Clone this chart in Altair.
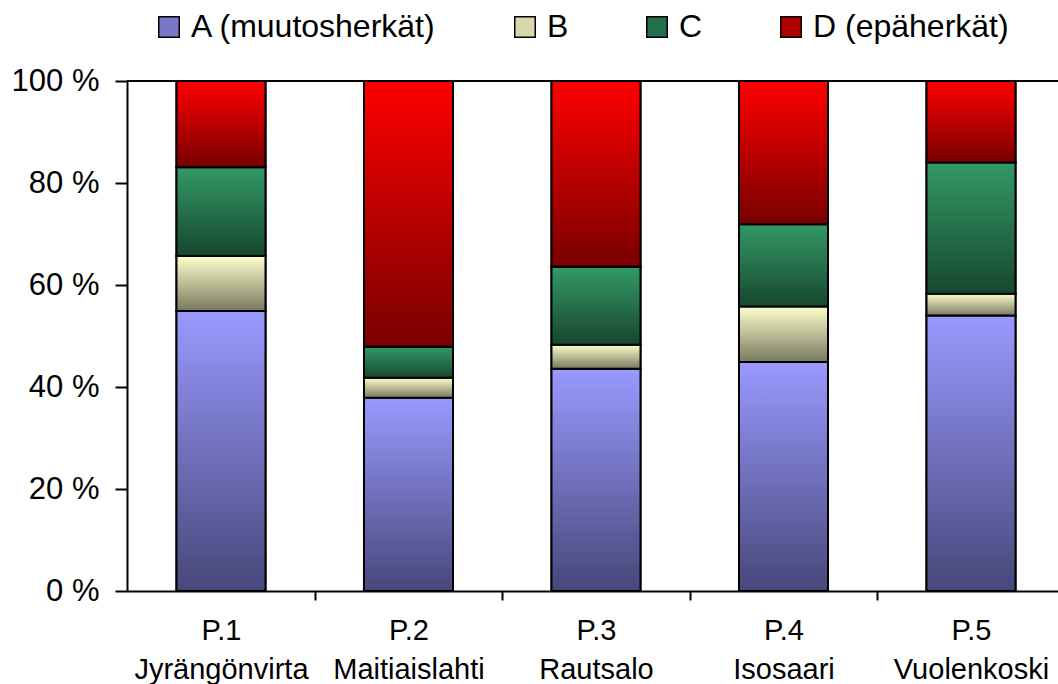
import altair as alt
import pandas as pd

# Sites (two-line category labels)
site_codes = ["P.1", "P.2", "P.3", "P.4", "P.5"]
site_names = ["Jyrängönvirta", "Maitiaislahti", "Rautsalo", "Isosaari", "Vuolenkoski"]

# Sensitivity classes, bottom to top
classes = ["A (muutosherkät)", "B", "C", "D (epäherkät)"]

# Share of each class per site (%)
share_a = [54.9, 37.9, 43.6, 44.9, 54.0]
share_b = [10.8, 3.9, 4.7, 10.9, 4.3]
share_c = [17.4, 6.1, 15.3, 16.1, 25.7]
share_d = [16.9, 52.1, 36.4, 28.1, 16.0]

y_ticks = [0, 20, 40, 60, 80, 100]

# Fill styles: light at the top of a segment, dark at the bottom
light = ["#9999FF", "#FFFFCC", "#339966", "#FF0000"]
dark = ["#47477A", "#787860", "#17472F", "#780000"]
legend_fill = ["#7878C8", "#D8D8A8", "#24704A", "#B00000"]

FONT = "Liberation Sans"
HALF_STEP = 93.75  # half a category step in pixels: ticks sit between bars

site_labels = [f"{c}\n{n}" for c, n in zip(site_codes, site_names)]
series = [share_a, share_b, share_c, share_d]

rows = []
for i, site in enumerate(site_labels):
    for k, cls in enumerate(classes):
        rows.append({"site": site, "class": cls, "order": k, "share": series[k][i]})
df = pd.DataFrame(rows)

base = alt.Chart(df).transform_stack(
    stack="share",
    groupby=["site"],
    as_=["y0", "y1"],
    sort=[alt.SortField("order", order="ascending")],
)

x_enc = alt.X(
    "site:N",
    sort=site_labels,
    scale=alt.Scale(paddingInner=0.5253, paddingOuter=0.2453, align=0.538),
    axis=alt.Axis(
        title=None,
        labelAngle=0,
        labelExpr="split(datum.label, '\\n')",
        labelFont=FONT,
        labelFontSize=29,
        labelLineHeight=39,
        labelColor="black",
        labelPadding=16,
        labelOffset=-HALF_STEP,
        tickOffset=HALF_STEP,
        tickSize=9,
        tickColor="black",
        tickWidth=2,
        domainColor="black",
        domainWidth=2,
    ),
)
y_enc = alt.Y(
    "y1:Q",
    scale=alt.Scale(domain=[0, 100], nice=False),
    axis=alt.Axis(
        title=None,
        values=y_ticks,
        labelExpr="datum.value + ' %'",
        labelFont=FONT,
        labelFontSize=31,
        labelColor="black",
        labelPadding=16,
        tickSize=12,
        tickColor="black",
        tickWidth=2,
        domainColor="black",
        domainWidth=2,
        grid=False,
    ),
)

# Solid stacked bars carry the legend; gradient layers are drawn over them
legend_bars = base.mark_bar(stroke="black", strokeWidth=2).encode(
    x=x_enc,
    y=y_enc,
    y2="y0:Q",
    color=alt.Color(
        "class:N",
        sort=classes,
        scale=alt.Scale(domain=classes, range=legend_fill),
        legend=alt.Legend(
            title=None,
            orient="none",
            legendX=26,
            legendY=-70,
            direction="horizontal",
            symbolType="square",
            symbolSize=420,
            symbolStrokeColor="black",
            symbolStrokeWidth=1.5,
            labelFont=FONT,
            labelFontSize=32,
            labelColor="black",
            labelOffset=6,
            labelLimit=500,
            columnPadding=72,
        ),
    ),
)

layers = [legend_bars]
for k, cls in enumerate(classes):
    grad = alt.LinearGradient(
        gradient="linear",
        stops=[
            alt.GradientStop(color=light[k], offset=0),
            alt.GradientStop(color=dark[k], offset=1),
        ],
        x1=0, x2=0, y1=0, y2=1,
    )
    layers.append(
        base.transform_filter(alt.datum["class"] == cls)
        .mark_bar(color=grad, stroke="black", strokeWidth=2)
        .encode(x=x_enc, y=y_enc, y2="y0:Q")
    )

# Top edge of the plot area at 100 %
top_line = alt.Chart(pd.DataFrame({"v": [100]})).mark_rule(
    color="black", strokeWidth=2
).encode(y="v:Q")
layers.append(top_line)

chart = (
    alt.layer(*layers)
    .properties(
        width=931,
        height=510,
        autosize="none",
        padding={"left": 127, "top": 81, "right": 0, "bottom": 93},
        background="white",
    )
    .configure_view(strokeWidth=0)
)

chart.save("out.html", embed_options={"renderer": "svg", "actions": False})
